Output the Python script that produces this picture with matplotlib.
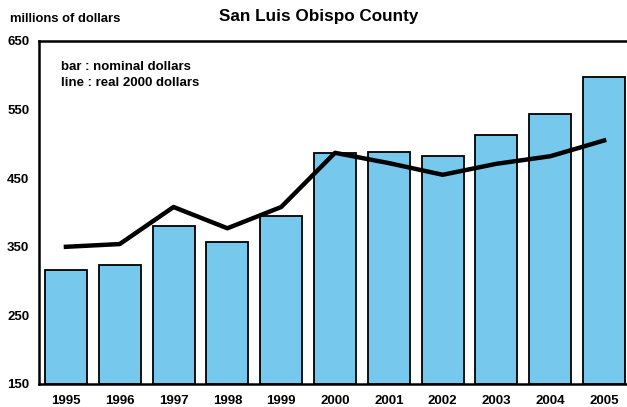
import matplotlib
matplotlib.use("Agg")
import matplotlib.pyplot as plt
import numpy as np

plt.rcParams["font.family"] = ["Liberation Sans", "DejaVu Sans"]
plt.rcParams["font.weight"] = "bold"

YEARS = ["1995", "1996", "1997", "1998", "1999", "2000",
         "2001", "2002", "2003", "2004", "2005"]
# millions of dollars
NOMINAL = [316, 324, 380, 357, 395, 487, 488, 482, 513, 544, 597]
REAL_2000 = [350, 354, 408, 377, 408, 487, 472, 455, 471, 482, 505]
Y_TICKS = [150, 250, 350, 450, 550, 650]

BAR_COLOR = "#76C9EC"

fig = plt.figure(figsize=(6.27, 4.07), dpi=100)
ax = fig.add_axes([39 / 627, 23 / 407, 592 / 627, 343 / 407])

x = np.arange(len(YEARS))
ax.bar(x, np.array(NOMINAL) - 150, bottom=150, width=0.78,
       color=BAR_COLOR, edgecolor="black", linewidth=1.3, zorder=2)
ax.plot(x, REAL_2000, color="black", linewidth=3.2, zorder=3)

ax.set_xlim(-0.5, 10.5)
ax.set_ylim(150, 650)
ax.set_xticks(x)
ax.set_xticklabels(YEARS)
ax.set_yticks(Y_TICKS)
ax.tick_params(length=0, labelsize=9.5)
for lbl in ax.get_xticklabels() + ax.get_yticklabels():
    lbl.set_fontweight("bold")
ax.tick_params(axis="x", pad=8)
ax.tick_params(axis="y", pad=7)
ax.spines["right"].set_visible(False)
for side in ("left", "top", "bottom"):
    ax.spines[side].set_linewidth(1.8)

ax.text(0.038, 0.925, "bar : nominal dollars", transform=ax.transAxes,
        fontsize=9.5, fontweight="bold", va="center")
ax.text(0.038, 0.878, "line : real 2000 dollars", transform=ax.transAxes,
        fontsize=9.5, fontweight="bold", va="center")

fig.text(10 / 627, 1 - 19 / 407, "millions of dollars", fontsize=9.4,
         fontweight="bold", va="center")
fig.text(319 / 627, 1 - 16.5 / 407, "San Luis Obispo County", fontsize=12.3,
         fontweight="bold", ha="center", va="center")

fig.savefig("out.png", dpi=100)
